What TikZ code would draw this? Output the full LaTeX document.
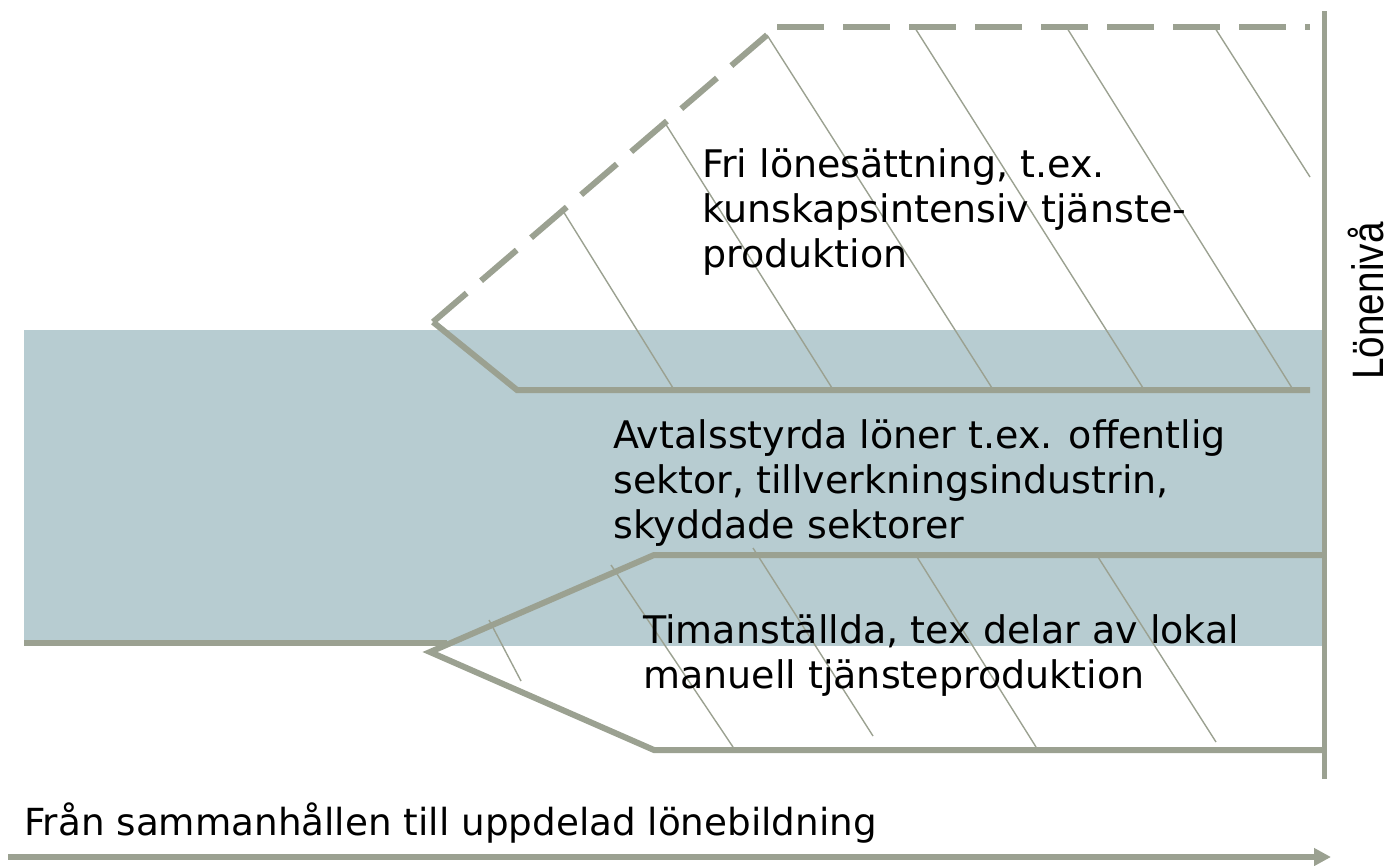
\documentclass[tikz,border=0pt]{standalone}
\usepackage{fontspec}
\setmainfont{DejaVu Sans}
\newfontfamily\axisfont[FakeStretch=0.88]{Liberation Sans}
\usetikzlibrary{arrows.meta}
\definecolor{lin}{RGB}{155,161,145}
\definecolor{band}{RGB}{183,204,209}
\begin{document}
\begin{tikzpicture}[x=1pt,y=-1pt,
  thickline/.style={draw=lin,line width=6pt},
  dashline/.style={thickline,dash pattern=on 47pt off 19pt},
  hatch/.style={draw=lin,line width=1.4pt},
  lbl/.style={inner sep=0pt,anchor=base west,align=left,font=\fontsize{38}{45}\selectfont}]
\useasboundingbox (0,0) rectangle (1394,865);
% band
\fill[band] (24,330) rectangle (1322,646);
% hatch lines, upper region
\draw[hatch] (563,211) -- (673,388);
\draw[hatch] (665,123) -- (832,388);
\draw[hatch] (767,35) -- (992,388);
\draw[hatch] (915,28) -- (1143,388);
\draw[hatch] (1067,28) -- (1292,388);
\draw[hatch] (1215,28) -- (1310,177);
% hatch lines, lower region
\draw[hatch] (489,620) -- (521,681);
\draw[hatch] (611,565) -- (733,747);
\draw[hatch] (753,548) -- (873,736);
\draw[hatch] (917,557) -- (1036,747);
\draw[hatch] (1098,557) -- (1216,742);
% upper boundary
\draw[dashline] (767,35) -- (433,322);
\draw[dashline] (777,27) -- (1310,27);
\draw[thickline] (433,322) -- (517,390) -- (1310,390);
% lower boundary
\draw[thickline] (24,643) -- (447,643);
\draw[thickline] (1324,555) -- (654,555) -- (430,652) -- (654,750) -- (1324,750);
% axis
\draw[draw=lin,line width=5pt] (1324,11) -- (1324,779);
\draw[thickline,-{Triangle[length=17pt,width=17pt]}] (8,857) -- (1331,857);
% texts (base anchor = baseline of the last line)
\node[lbl] (fri) at (702,267) {Fri lönesättning, t.ex.\\kunskapsintensiv tjänste-\\produktion};
\node[lbl] (avt) at (613,538) {Avtalsstyrda löner t.ex. offentlig\\sektor, tillverkningsindustrin,\\skyddade sektorer};
\node[lbl] (tim) at (643,688) {Timanställda, tex delar av lokal\\manuell tjänsteproduktion};
\node[inner sep=0pt,anchor=base west,font=\fontsize{37.3}{44}\selectfont] (fran) at (24,835) {Från sammanhållen till uppdelad lönebildning};
\node[inner sep=0pt,rotate=90,anchor=base,font=\axisfont\fontsize{44}{50}\selectfont] (lon) at (1383,301) {Lönenivå};
\end{tikzpicture}
\end{document}
